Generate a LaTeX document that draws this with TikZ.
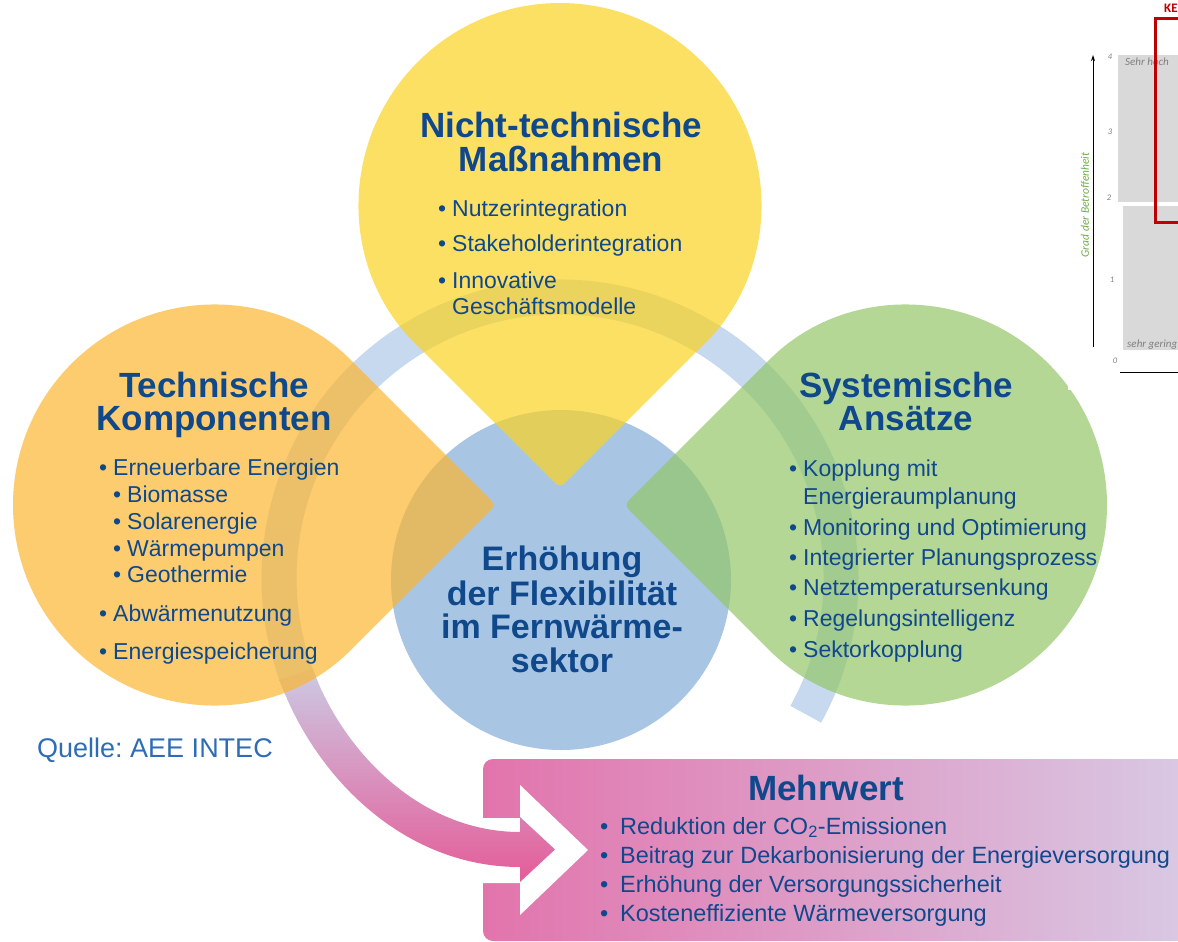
\documentclass[tikz,border=0pt]{standalone}
\usepackage{fontspec}
\setmainfont{Liberation Sans}
\newfontfamily\chartfont{Carlito}
\usetikzlibrary{calc,arrows.meta}
\frenchspacing

\definecolor{txtblue}{RGB}{16,72,140}
\definecolor{quelleblue}{RGB}{46,108,182}
\definecolor{ringblue}{RGB}{198,217,238}
\definecolor{centerblue}{RGB}{168,198,228}
\definecolor{petalyellow}{RGB}{251,211,34}
\definecolor{petalorange}{RGB}{251,182,48}
\definecolor{petalgreen}{RGB}{148,198,105}
\definecolor{boxleft}{RGB}{226,116,172}
\definecolor{boxright}{RGB}{216,204,230}
\definecolor{arrowtop}{RGB}{204,202,228}
\definecolor{arrowbottom}{RGB}{228,92,152}
\definecolor{chartgray}{RGB}{217,217,217}
\definecolor{chartred}{RGB}{192,0,0}
\definecolor{chartgreen}{RGB}{112,173,71}
\definecolor{labelgray}{RGB}{128,128,128}

\newcommand{\bl}[1][14pt]{\makebox[#1][l]{•}}

\begin{document}
\frenchspacing
\begin{tikzpicture}[x=1pt,y=-1pt,
 tx/.style={anchor=base west, inner sep=0pt, text=txtblue, font=\fontsize{23}{23}\selectfont},
 mtx/.style={anchor=base west, inner sep=0pt, text=txtblue, font=\fontsize{23.5}{23.5}\selectfont},
 ttl/.style={anchor=base, inner sep=0pt, text=txtblue, font=\fontsize{35}{35}\selectfont\bfseries},
 ctl/.style={anchor=base, inner sep=0pt, text=txtblue, font=\fontsize{34}{34}\selectfont\bfseries},
 petal/.style={fill opacity=0.7, rounded corners=6pt},
 chtx/.style={inner sep=0pt, text=labelgray, font=\chartfont\itshape\fontsize{11}{11}\selectfont},
 tick/.style={inner sep=0pt, text=labelgray, font=\chartfont\itshape\fontsize{8.5}{8.5}\selectfont},
]
\useasboundingbox (0,0) rectangle (1178,942);
\clip (0,0) rectangle (1178,942);

% ring
\coordinate (rc) at (560,578);
\draw[ringblue, line width=35pt] (rc) ++(29:281) arc[start angle=29, end angle=-203, radius=281];

% Mehrwert box with white arrow cut-out
\shade[left color=boxleft, right color=boxright, rounded corners=10pt] (483,759) rectangle (1215,941);
\fill[white] (470,818) -- (520,818) -- (520,785) -- (588,850) -- (520,915) -- (520,883) -- (470,883) -- cycle;

% pink arrow from the ring
\coordinate (ao) at ($(rc)+(160:298.5)$);
\coordinate (ai) at ($(rc)+(157:263.5)$);
\shade[top color=arrowtop, bottom color=arrowbottom]
  (ao) arc[start angle=160, end angle=157, radius=298.5]
  .. controls (324.3,786.7) and (410,867) .. (520,867)
  -- (520,882) -- (555,849.5) -- (520,817) -- (520,832)
  .. controls (425,832) and (350.6,759.2) .. (ai)
  arc[start angle=157, end angle=160, radius=263.5] -- cycle;

% centre circle
\fill[centerblue] (561,580) circle[radius=170];

% petals
\fill[petalyellow, petal] (560,487.8) -- ($(560,204)+(45:201)$) arc[start angle=45, end angle=-225, radius=201] -- cycle;
\fill[petalorange, petal] (495.8,505) -- ($(213,505)+(45:200)$) arc[start angle=45, end angle=315, radius=200] -- cycle;
\fill[petalgreen, petal] (624.2,505) -- ($(907,505)+(225:200)$) arc[start angle=225, end angle=495, radius=200] -- cycle;

% yellow texts
\node[ttl] (yt1) at (561,137) {Nicht-technische};
\node[ttl] (yt2) at (561,171) {Maßnahmen};
\node[tx] (y1) at (438,216) {\bl Nutzerintegration};
\node[tx] (y2) at (438,251) {\bl Stakeholderintegration};
\node[tx] (y3) at (438,288) {\bl Innovative};
\node[tx] (y4) at (452,314) {Geschäftsmodelle};

% orange texts
\node[ttl] (ot1) at (214,397) {Technische};
\node[ttl] (ot2) at (214,430) {Komponenten};
\node[tx] (o1) at (99,475) {\bl Erneuerbare Energien};
\node[tx] (o2) at (113,502) {\bl Biomasse};
\node[tx] (o3) at (113,529) {\bl Solarenergie};
\node[tx] (o4) at (113,556) {\bl Wärmepumpen};
\node[tx] (o5) at (113,582) {\bl Geothermie};
\node[tx] (o6) at (99,621) {\bl Abwärmenutzung};
\node[tx] (o7) at (99,659) {\bl Energiespeicherung};

% green texts
\node[ttl] (gt1) at (906,397) {Systemische};
\node[ttl] (gt2) at (906,430) {Ansätze};
\node[tx] (g1) at (789,476) {\bl Kopplung mit};
\node[tx] (g2) at (803,504) {Energieraumplanung};
\node[tx] (g3) at (789,535) {\bl Monitoring und Optimierung};
\node[tx] (g4) at (789,565) {\bl Integrierter Planungsprozess};
\node[tx] (g5) at (789,595) {\bl Netztemperatursenkung};
\node[tx] (g6) at (789,626) {\bl Regelungsintelligenz};
\node[tx] (g7) at (789,657) {\bl Sektorkopplung};

% centre texts
\node[ctl] (c1) at (562,570) {Erhöhung};
\node[ctl] (c2) at (562,605) {der Flexibilität};
\node[ctl] (c3) at (562,638) {im Fernwärme-};
\node[ctl] (c4) at (562,672) {sektor};

% Mehrwert texts
\node[ttl] (mt) at (826,800) {Mehrwert};
\node[mtx] (m1) at (600,834) {\bl[20pt]Reduktion der CO\textsubscript{2}-Emissionen};
\node[mtx] (m2) at (600,863) {\bl[20pt]Beitrag zur Dekarbonisierung der Energieversorgung};
\node[mtx] (m3) at (600,892) {\bl[20pt]Erhöhung der Versorgungssicherheit};
\node[mtx] (m4) at (600,921) {\bl[20pt]Kosteneffiziente Wärmeversorgung};

% source
\node[anchor=base west, inner sep=0pt, text=quelleblue, font=\fontsize{27}{27}\selectfont] (q) at (37,757) {Quelle:\ AEE INTEC};

% chart fragment (top right)
\fill[white] (1068,-2) rectangle (1182,390);
\fill[chartgray] (1118,55) rectangle (1182,202);
\fill[chartgray] (1123,206) rectangle (1182,350);
\node[chtx, anchor=base west] (sh) at (1125,66) {Sehr hoch};
\node[chtx, anchor=base west] (sg) at (1127,347) {sehr gering};
\draw[chartred, line width=3pt] (1190,19) -- (1155,19) -- (1155,222) -- (1190,222);
\node[anchor=base west, inner sep=0pt, text=chartred, font=\chartfont\bfseries\fontsize{13}{13}\selectfont] (ke) at (1164,13) {KE};
\coordinate (ya0) at (1093,347);
\coordinate (ya1) at (1093,55);
\draw[line width=1pt, -{Stealth[length=6pt,width=4pt]}] (ya0) -- (ya1);
\coordinate (xa0) at (1120,372);
\coordinate (xa1) at (1182,372);
\draw[line width=1pt] (xa0) -- (xa1);
\node[inner sep=0pt, rotate=90, text=chartgreen, font=\chartfont\itshape\fontsize{11.5}{11.5}\selectfont] (ax) at (1085,205) {Grad der Betroffenheit};
\node[tick] (t4) at (1110,57) {4};
\node[tick] (t3) at (1110,132) {3};
\node[tick] (t2) at (1109,198) {2};
\node[tick] (t1) at (1112,280) {1};
\node[tick] (t0) at (1115,361) {0};
\end{tikzpicture}
\end{document}
